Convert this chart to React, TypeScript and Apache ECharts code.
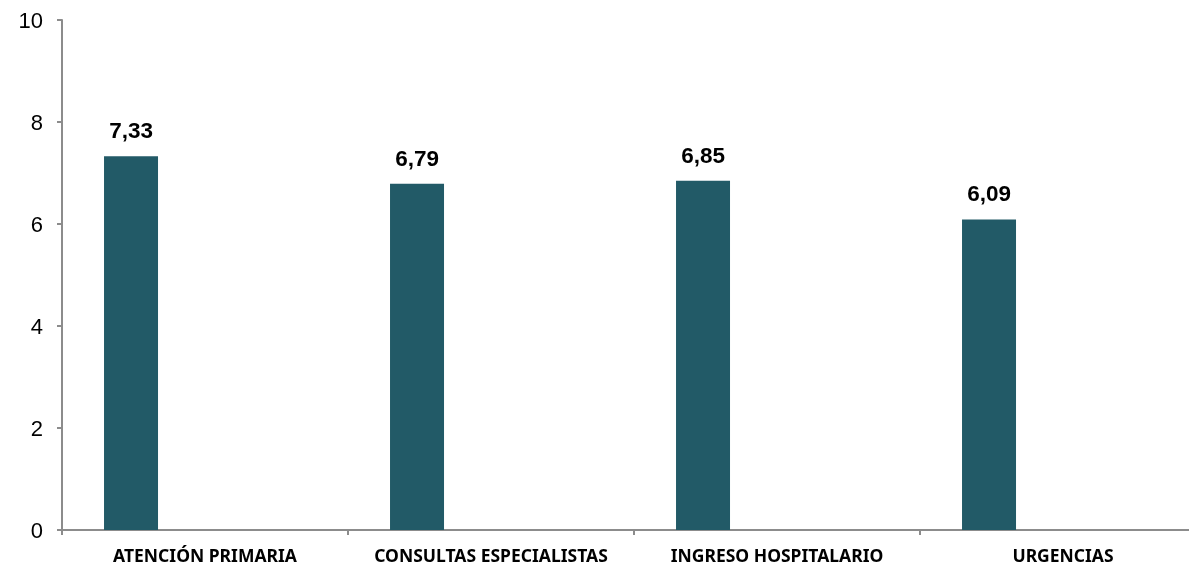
import React, { useEffect, useRef } from "react";
import * as echarts from "echarts";

const categories = ["ATENCIÓN PRIMARIA", "CONSULTAS ESPECIALISTAS", "INGRESO HOSPITALARIO", "URGENCIAS"];
const values = [7.33, 6.79, 6.85, 6.09];
const emptySeries = [null, null, null, null];

export default function App() {
  const ref = useRef<HTMLDivElement>(null);
  useEffect(() => {
    const chart = echarts.init(ref.current!, null, { renderer: "svg" });
    chart.setOption({
      animation: false,
      grid: { left: 62, top: 20, bottom: 39, right: 0, containLabel: false },
      xAxis: {
        type: "category",
        data: categories,
        axisLine: { lineStyle: { color: "#8c8c8c", width: 2 } },
        axisTick: { show: true, length: 5, lineStyle: { color: "#8c8c8c", width: 2 } },
        axisLabel: {
          color: "#000",
          fontFamily: "Noto Sans",
          fontWeight: "bold",
          fontSize: 17.5,
          margin: 16,
          interval: 0,
        },
      },
      yAxis: {
        type: "value",
        min: 0,
        max: 10,
        interval: 2,
        splitLine: { show: false },
        axisLine: { show: true, lineStyle: { color: "#8c8c8c", width: 2 } },
        axisTick: { show: true, length: 5, lineStyle: { color: "#8c8c8c", width: 2 } },
        axisLabel: {
          color: "#000",
          fontFamily: "Liberation Sans",
          fontSize: 22,
          margin: 19,
        },
      },
      series: [
        {
          type: "bar",
          data: values,
          barWidth: 54,
          barGap: "174%",
          itemStyle: { color: "#225a67" },
          label: {
            show: true,
            position: "top",
            distance: 14,
            color: "#000",
            fontFamily: "Liberation Sans",
            fontWeight: "bold",
            fontSize: 22.5,
            formatter: (p: any) => p.value.toFixed(2).replace(".", ","),
          },
        },
        {
          type: "bar",
          data: emptySeries,
          barWidth: 54,
        },
      ],
    });
    return () => chart.dispose();
  }, []);
  return (
    <div style={{ position: "fixed", left: 0, top: 0, width: 1189, height: 569, overflow: "hidden" }}>
      <div ref={ref} style={{ width: 1206, height: 569 }} />
    </div>
  );
}
